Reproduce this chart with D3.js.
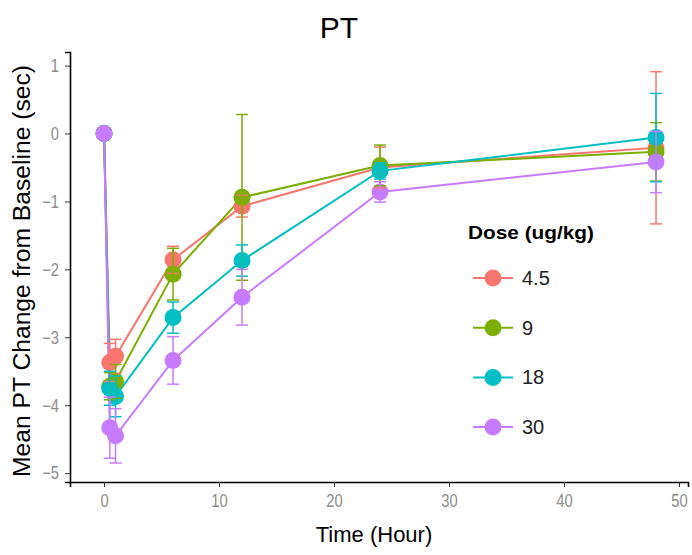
<!DOCTYPE html>
<html>
<head>
<meta charset="utf-8">
<script src="https://cdn.jsdelivr.net/npm/d3@7"></script>
<style>
body{margin:0;background:#fff;}
svg{display:block;}
</style>
</head>
<body>
<svg id="chart" width="692" height="555"></svg>
<script>
const times = [0, 0.5, 1, 6, 12, 24, 48];
const doses = ["4.5", "9", "18", "30"];
const colors = ["#F8766D", "#7CAE00", "#00BFC4", "#C77CFF"];
const mean45 = [0, -3.37, -3.28, -1.86, -1.07, -0.50, -0.21];
const se45   = [0, 0.28, 0.25, 0.20, 0.16, 0.30, 1.12];
const mean9  = [0, -3.72, -3.65, -2.07, -0.94, -0.47, -0.27];
const se9    = [0, 0.20, 0.25, 0.38, 1.22, 0.30, 0.43];
const mean18 = [0, -3.75, -3.87, -2.71, -1.87, -0.55, -0.06];
const se18   = [0, 0.25, 0.30, 0.23, 0.23, 0.12, 0.65];
const mean30 = [0, -4.33, -4.45, -3.34, -2.41, -0.86, -0.42];
const se30   = [0, 0.45, 0.40, 0.35, 0.41, 0.15, 0.45];
const xTicks = [0, 10, 20, 30, 40, 50];
const yTicks = [-5, -4, -3, -2, -1, 0, 1];

const means = [mean45, mean9, mean18, mean30];
const ses = [se45, se9, se18, se30];
const series = doses.map((d, i) => ({
  dose: d, color: colors[i],
  pts: times.map((t, j) => ({t, v: means[i][j], se: ses[i][j]}))
}));

const svg = d3.select("#chart");
const L = 70, R = 688, T = 52, B = 482;
const x = d3.scaleLinear().domain([-2.96, 50.78]).range([L, R]);
const y = d3.scaleLinear().domain([-5.13, 1.2]).range([B, T]);
const font = "'Liberation Sans', Arial, sans-serif";

// axes
const xAxis = svg.append("g").attr("transform", `translate(0,${B})`)
  .call(d3.axisBottom(x).tickValues(xTicks).tickFormat(d3.format("d")).tickSize(5).tickPadding(7));
const yAxis = svg.append("g").attr("transform", `translate(${L},0)`)
  .call(d3.axisLeft(y).tickValues(yTicks).tickFormat(d3.format("d")).tickSize(5).tickPadding(6));
[xAxis, yAxis].forEach(a => {
  a.select(".domain").attr("stroke", "#000").attr("stroke-width", 1.6);
  a.selectAll(".tick line").attr("stroke", "#333").attr("stroke-width", 1);
  a.selectAll(".tick text").attr("fill", "#8c8c8c").style("font-size", "18px").style("font-family", font);
});
xAxis.selectAll(".tick text").attr("transform", "scale(0.82,1)");
yAxis.selectAll(".tick text").each(function() {
  const t = d3.select(this);
  const xx = +t.attr("x");
  t.attr("x", xx / 0.82).attr("transform", "scale(0.82,1)");
});

const g = svg.append("g");
const line = d3.line().x(d => x(d.t)).y(d => y(d.v));
series.forEach(s => {
  g.append("path").datum(s.pts).attr("d", line)
    .attr("fill", "none").attr("stroke", s.color).attr("stroke-width", 2);
});
series.forEach(s => {
  g.selectAll(null).data(s.pts).enter().append("circle")
    .attr("cx", d => x(d.t)).attr("cy", d => y(d.v)).attr("r", 8.5)
    .attr("fill", s.color);
});
const cap = 6;
series.forEach(s => {
  const eb = g.append("g").attr("stroke", s.color).attr("stroke-width", 1.5);
  s.pts.filter(d => d.se > 0).forEach(d => {
    const xx = x(d.t), y1 = y(d.v + d.se), y2 = y(d.v - d.se);
    eb.append("line").attr("x1", xx).attr("x2", xx).attr("y1", y1).attr("y2", y2);
    eb.append("line").attr("x1", xx - cap).attr("x2", xx + cap).attr("y1", y1).attr("y2", y1);
    eb.append("line").attr("x1", xx - cap).attr("x2", xx + cap).attr("y1", y2).attr("y2", y2);
  });
});

// titles
svg.append("text").attr("x", 339).attr("y", 38).attr("text-anchor", "middle")
  .style("font-family", font).style("font-size", "30px").attr("fill", "#000").text("PT");
svg.append("text").attr("x", 374).attr("y", 542).attr("text-anchor", "middle")
  .style("font-family", font).style("font-size", "22px").attr("fill", "#000").text("Time (Hour)");
svg.append("text").attr("transform", "translate(30,271) rotate(-90)").attr("text-anchor", "middle")
  .attr("textLength", 412).attr("lengthAdjust", "spacingAndGlyphs")
  .style("font-family", font).style("font-size", "23px").attr("fill", "#000").text("Mean PT Change from Baseline (sec)");

// legend
const lg = svg.append("g");
lg.append("text").attr("x", 468).attr("y", 239).attr("textLength", 126).attr("lengthAdjust", "spacingAndGlyphs")
  .style("font-family", font).style("font-size", "19px")
  .style("font-weight", "bold").attr("fill", "#000").text("Dose (ug/kg)");
series.forEach((s, i) => {
  const cy = 278 + i * 49.7;
  lg.append("line").attr("x1", 473).attr("x2", 513).attr("y1", cy).attr("y2", cy)
    .attr("stroke", s.color).attr("stroke-width", 2);
  lg.append("circle").attr("cx", 493).attr("cy", cy).attr("r", 8.5).attr("fill", s.color);
  lg.append("text").attr("x", 522).attr("y", cy + 7).style("font-family", font).style("font-size", "20px")
    .attr("fill", "#222").text(s.dose);
});
</script>
</body>
</html>
